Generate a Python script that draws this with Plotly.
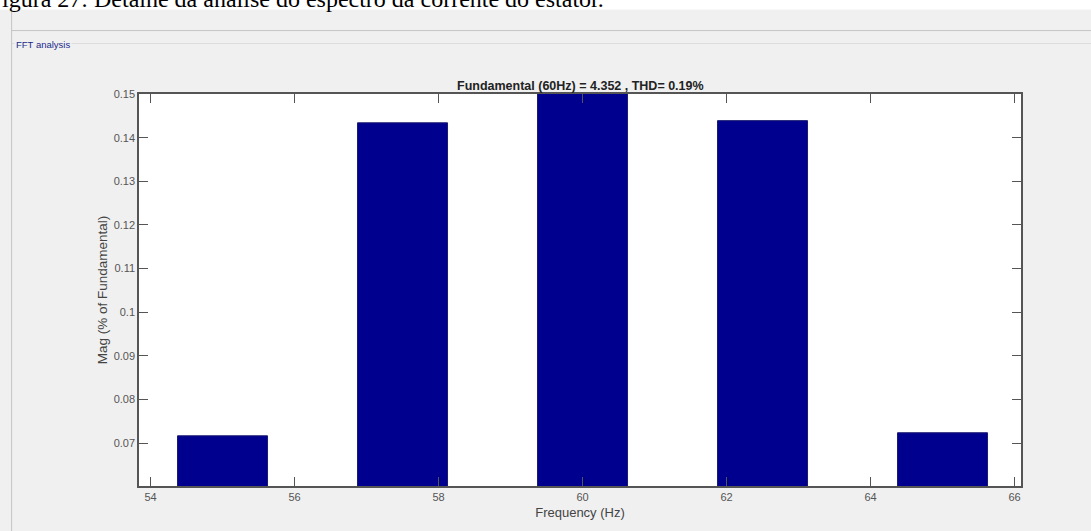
import plotly.graph_objects as go

# Data
freqs = [55, 57.5, 60, 62.5, 65]
mags = [0.0717, 0.1434, 100.0, 0.1439, 0.0724]
ytick_vals = [0.07, 0.08, 0.09, 0.10, 0.11, 0.12, 0.13, 0.14, 0.15]
ytick_text = ["0.07", "0.08", "0.09", "0.1", "0.11", "0.12", "0.13", "0.14", "0.15"]
xtick_vals = [54, 56, 58, 60, 62, 64, 66]

W, H = 1091, 531
L, R, T, B = 139.3, 1020.7, 93.5, 486.0

def px(x):
    return (x - L) / (R - L)

def py(y):
    return (B - y) / (B - T)

fig = go.Figure()
fig.add_trace(go.Bar(
    x=freqs, y=mags, width=1.25,
    marker=dict(color="#00008f", line=dict(color="#1a1a70", width=1)),
    cliponaxis=True,
))

line_col = "#c4c4c4"
shapes = [
    dict(type="rect", xref="paper", yref="paper", x0=px(0), x1=px(W), y0=py(9), y1=py(-5),
         fillcolor="white", line=dict(width=0), layer="below"),
    dict(type="line", xref="paper", yref="paper", x0=px(12), x1=px(W), y0=py(30), y1=py(30),
         line=dict(color=line_col, width=1)),
    dict(type="line", xref="paper", yref="paper", x0=px(12), x1=px(15), y0=py(43), y1=py(43),
         line=dict(color="#dcdcdc", width=1)),
    dict(type="line", xref="paper", yref="paper", x0=px(72), x1=px(W), y0=py(43), y1=py(43),
         line=dict(color="#dcdcdc", width=1)),
    dict(type="line", xref="paper", yref="paper", x0=px(12), x1=px(12), y0=py(9), y1=py(H + 5),
         line=dict(color=line_col, width=1)),
]

annotations = [
    dict(text="igura 27: Detalhe da análise do espectro da corrente do estator.",
         xref="paper", yref="paper", x=px(0), y=py(-2), xanchor="left", yanchor="middle",
         showarrow=False, font=dict(family="Liberation Serif", size=24, color="black")),
    dict(text="FFT analysis", xref="paper", yref="paper", x=px(14), y=py(44),
         xanchor="left", yanchor="middle", showarrow=False,
         font=dict(family="Liberation Sans", size=9.5, color="#1a2a8a")),
    dict(text="<b>Fundamental (60Hz) = 4.352 , THD= 0.19%</b>", xref="paper", yref="paper",
         x=0.5, y=py(85), xanchor="center", yanchor="middle", showarrow=False,
         font=dict(family="Liberation Sans", size=12.5, color="#222222")),
]

fig.update_layout(
    width=W, height=H,
    margin=dict(l=L, r=W - R, t=T, b=H - B, pad=0),
    paper_bgcolor="#f0f0f0",
    plot_bgcolor="white",
    showlegend=False,
    shapes=shapes,
    annotations=annotations,
    font=dict(family="Liberation Sans", size=11, color="#444444"),
)

fig.update_xaxes(
    range=[53.84, 66.09], tickvals=xtick_vals, ticks="inside", ticklen=9,
    tickcolor="#555555", showline=True, linecolor="#555555", linewidth=1.5,
    mirror="ticks", showgrid=False, zeroline=False,
    title=dict(text="Frequency (Hz)", font=dict(size=13, color="#444444"), standoff=6),
    tickfont=dict(size=11, color="#555555"),
)
fig.update_yaxes(
    range=[0.0602, 0.15], tickvals=ytick_vals, ticktext=ytick_text, ticks="inside", ticklen=9,
    tickcolor="#555555", showline=True, linecolor="#555555", linewidth=1.5,
    mirror="ticks", showgrid=False, zeroline=False,
    title=dict(text="Mag (% of Fundamental)", font=dict(size=13.5, color="#444444"), standoff=3),
    tickfont=dict(size=11, color="#555555"),
)

fig.write_html("out.html")
